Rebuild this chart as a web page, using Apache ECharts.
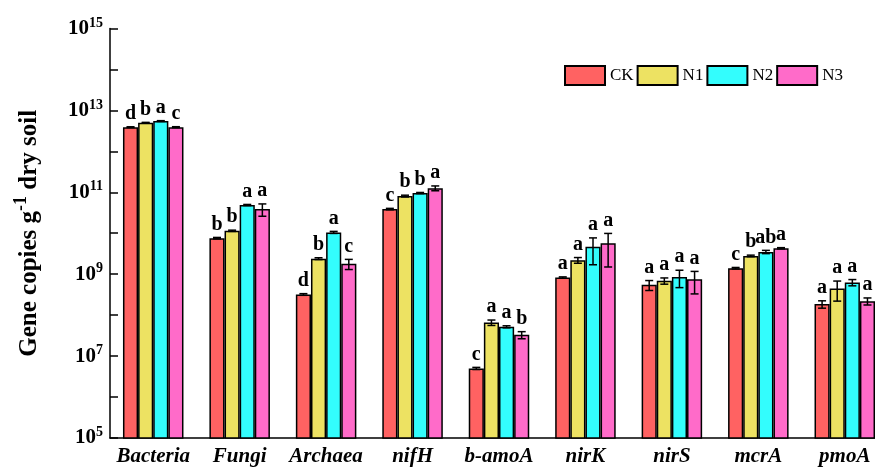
<!DOCTYPE html>
<html>
<head>
<meta charset="utf-8">
<script src="https://cdn.jsdelivr.net/npm/echarts@6/dist/echarts.min.js"></script>
<style>
  html, body { margin: 0; padding: 0; background: #fff; overflow: hidden; }
  /* the plot area runs past the right edge of the window, so the last group is cut off */
  #chart { width: 888px; height: 467px; }
</style>
</head>
<body>
<div id="chart"></div>
<script>
// Gene groups on the x axis
const categories = ['Bacteria', 'Fungi', 'Archaea', 'nifH', 'b-amoA', 'nirK', 'nirS', 'mcrA', 'pmoA'];
const treatments = ['CK', 'N1', 'N2', 'N3'];

// Mean gene copies per gram of dry soil
const meanCK = [3.9e12, 7.6e9, 3.2e8, 3.9e10, 5.0e6, 8.3e8, 5.5e8, 1.4e9, 1.86e8];
const meanN1 = [5.0e12, 1.15e10, 2.4e9, 8.1e10, 6.6e7, 2.2e9, 6.9e8, 2.8e9, 4.5e8];
const meanN2 = [5.5e12, 4.9e10, 1.05e10, 9.6e10, 5.2e7, 4.7e9, 8.6e8, 3.5e9, 6.3e8];
const meanN3 = [3.9e12, 3.9e10, 1.8e9, 1.26e11, 3.3e7, 5.7e9, 7.5e8, 4.3e9, 2.2e8];

// Standard deviations
const sdCK = [8e10, 3e8, 1.5e7, 1.5e9, 3e5, 3e7, 1.5e8, 6e7, 3.8e7];
const sdN1 = [1e11, 4e8, 1.2e8, 4e9, 1.0e7, 3.5e8, 1.2e8, 1.2e8, 2.3e8];
const sdN2 = [1.2e11, 1.5e9, 6e8, 3e9, 3e6, 3.0e9, 3.9e8, 3.2e8, 1.1e8];
const sdN3 = [1e11, 1.3e10, 5e8, 1.7e10, 6.5e6, 4.2e9, 4.2e8, 1.5e8, 4.3e7];

// Significance letters
const lettersCK = ['d', 'b', 'd', 'c', 'c', 'a', 'a', 'c', 'a'];
const lettersN1 = ['b', 'b', 'b', 'b', 'a', 'a', 'a', 'b', 'a'];
const lettersN2 = ['a', 'a', 'a', 'b', 'a', 'a', 'a', 'ab', 'a'];
const lettersN3 = ['c', 'a', 'c', 'a', 'b', 'a', 'a', 'a', 'a'];

// Y-axis range (powers of ten)
const yMin = 1e5;
const yMax = 1e15;

const colors = ['#FF6262', '#EDE262', '#33FDFD', '#FF6BC9'];
const means = [meanCK, meanN1, meanN2, meanN3];
const sds = [sdCK, sdN1, sdN2, sdN3];
const letters = [lettersCK, lettersN1, lettersN2, lettersN3];

const FONT = '"Liberation Serif", "Times New Roman", serif';
const GAP = 0.3;

function errorBarRenderer(s) {
  return function (params, api) {
    const ci = api.value(0);
    const m = api.value(1);
    const sd = api.value(2);
    const band = api.size([1, 1], [ci, m])[0];
    const bw = band * (1 - GAP) / treatments.length;
    const cx = api.coord([ci, m])[0] + (s - (treatments.length - 1) / 2) * bw;
    const yTop = api.coord([ci, m + sd])[1];
    const yBot = api.coord([ci, m - sd])[1];
    const cap = 4;
    const ls = { stroke: '#000', lineWidth: 1.5 };
    return {
      type: 'group',
      children: [
        { type: 'line', shape: { x1: cx, y1: yTop, x2: cx, y2: yBot }, style: ls },
        { type: 'line', shape: { x1: cx - cap, y1: yTop, x2: cx + cap, y2: yTop }, style: ls },
        { type: 'line', shape: { x1: cx - cap, y1: yBot, x2: cx + cap, y2: yBot }, style: ls },
        {
          type: 'text',
          style: {
            text: letters[s][params.dataIndex],
            x: cx, y: yTop - 3,
            align: 'center', verticalAlign: 'bottom',
            font: 'bold 20px ' + FONT,
            fill: '#000'
          }
        }
      ]
    };
  };
}

const series = [];
treatments.forEach(function (name, s) {
  series.push({
    name: name,
    type: 'bar',
    data: means[s],
    barGap: 0,
    barCategoryGap: (GAP * 100) + '%',
    itemStyle: { color: colors[s], borderColor: '#000', borderWidth: 1.5 },
    z: 2
  });
});
treatments.forEach(function (name, s) {
  series.push({
    type: 'custom',
    name: name + ' error',
    renderItem: errorBarRenderer(s),
    data: means[s].map(function (m, i) { return [i, m, sds[s][i]]; }),
    encode: { x: 0, y: 1 },
    z: 5,
    silent: true
  });
});

const chart = echarts.init(document.getElementById('chart'), null, { renderer: 'canvas' });
chart.setOption({
  animation: false,
  backgroundColor: '#fff',
  grid: { left: 110, top: 28.5, right: 0, bottom: 28 },
  legend: {
    data: treatments,
    left: 559, top: 60,
    itemWidth: 40, itemHeight: 19, itemGap: 3,
    icon: 'rect',
    textStyle: { fontFamily: FONT, fontSize: 17, color: '#000' }
  },
  xAxis: {
    type: 'category',
    data: categories,
    axisLine: { lineStyle: { color: '#000', width: 1.5 } },
    axisTick: { show: false },
    axisLabel: {
      interval: 0,
      margin: 8,
      fontFamily: FONT, fontSize: 21, fontStyle: 'italic', fontWeight: 'bold', color: '#000'
    }
  },
  yAxis: {
    type: 'log',
    logBase: 10,
    min: yMin, max: yMax,
    interval: 1,
    name: '{t|Gene copies g}{s|-1}{t| dry soil}',
    nameLocation: 'middle',
    nameRotate: 90,
    nameGap: 68,
    nameTextStyle: {
      rich: {
        t: { fontFamily: FONT, fontSize: 25, fontWeight: 'bold', color: '#000', lineHeight: 26, verticalAlign: 'bottom' },
        s: { fontFamily: FONT, fontSize: 18, fontWeight: 'bold', color: '#000', lineHeight: 18, verticalAlign: 'bottom', padding: [0, 0, 12, 0] }
      }
    },
    axisLine: { show: true, lineStyle: { color: '#000', width: 1.5 } },
    axisTick: { show: true, inside: true, length: 8, lineStyle: { color: '#000', width: 1.5 } },
    splitLine: { show: false },
    axisLabel: {
      margin: 7,
      formatter: function (v) {
        const e = Math.round(Math.log10(v));
        if (e % 2 === 0) return '';
        return '{b|10}{s|' + e + '}';
      },
      rich: {
        b: { fontFamily: FONT, fontSize: 21, fontWeight: 'bold', color: '#000', lineHeight: 21, verticalAlign: 'bottom' },
        s: { fontFamily: FONT, fontSize: 14, fontWeight: 'bold', color: '#000', lineHeight: 14, verticalAlign: 'bottom', padding: [0, 0, 9, 0] }
      }
    }
  },
  series: series
});
</script>
</body>
</html>
